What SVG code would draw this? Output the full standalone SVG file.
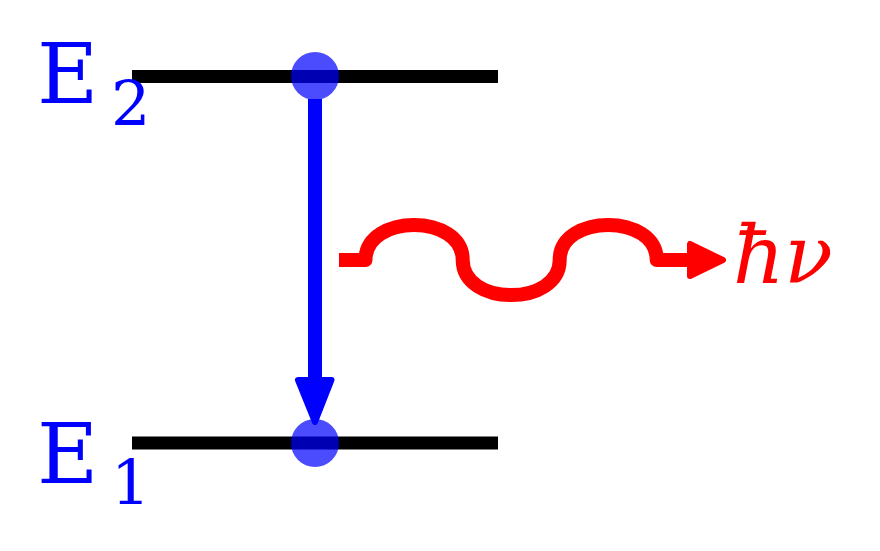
<svg xmlns="http://www.w3.org/2000/svg" width="880" height="551" viewBox="0 0 880 551">
<style>
.lvl{stroke:#000;stroke-width:13;fill:none}
.dot{fill:#0000ff;fill-opacity:0.7}
.lbl{font-family:"DejaVu Serif","Liberation Serif",serif;fill:#0000ff}
.photon{font-family:"DejaVu Serif","Liberation Serif",serif;font-style:italic;fill:#ff0000}
</style>
<rect width="880" height="551" fill="#ffffff"/>
<g id="level-E2">
<line class="lvl" x1="132" y1="76.5" x2="498" y2="76.5"/>
<text class="lbl" x="37" y="103" font-size="84">E</text>
<text class="lbl" x="111" y="125" font-size="62">2</text>
</g>
<g id="level-E1">
<line class="lvl" x1="132" y1="443" x2="498" y2="443"/>
<text class="lbl" x="37" y="483" font-size="84">E</text>
<text class="lbl" x="111" y="504" font-size="62">1</text>
</g>
<g id="connectors">
<line x1="315" y1="99" x2="315" y2="385" stroke="#0000ff" stroke-width="14"/>
<polygon points="298,380 331.5,380 315,422" fill="#0000ff" stroke="#0000ff" stroke-width="6" stroke-linejoin="round"/>
<path d="M339,260 H365.5 C365.5,213.3 462.7,213.3 462.7,260 C462.7,306.7 559.7,306.7 559.7,260 C559.7,213.3 656.7,213.3 656.7,260 H695" fill="none" stroke="#ff0000" stroke-width="14" stroke-linejoin="round"/>
<polygon points="690,244 690,276 723,260" fill="#ff0000" stroke="#ff0000" stroke-width="6" stroke-linejoin="round"/>
</g>
<g id="electron-upper"><circle class="dot" cx="315" cy="76" r="24"/></g>
<g id="electron-lower"><circle class="dot" cx="315" cy="443" r="24"/></g>
<g id="photon-label">
<text class="photon" x="733" y="283" font-size="80" letter-spacing="4" textLength="104">ħν</text>
</g>
</svg>
